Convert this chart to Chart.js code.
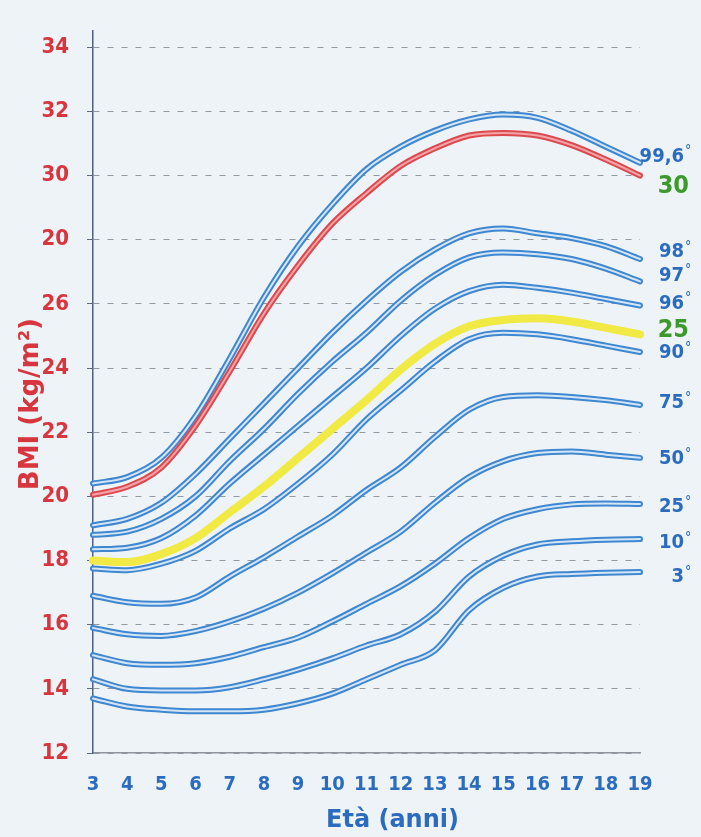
<!DOCTYPE html>
<html>
<head>
<meta charset="utf-8">
<script src="https://cdn.jsdelivr.net/npm/chart.js@4.4.0/dist/chart.umd.min.js"></script>
<style>
  html, body { margin: 0; padding: 0; background: #edf3f6; }
  canvas { display: block; }
</style>
</head>
<body>
<canvas id="bmi-chart" width="701" height="837"></canvas>
<script>
// eta' in anni (asse x)
const ages = ["3", "4", "5", "6", "7", "8", "9", "10", "11", "12", "13", "14", "15", "16", "17", "18", "19"];

// tacche asse y (il "28" nell'originale e' stampato "20")
const yTicks = [12, 14, 16, 18, 20, 22, 24, 26, 28, 30, 32, 34];
const yTickLabels = ["12", "14", "16", "18", "20", "22", "24", "26", "20", "30", "32", "34"];

// curve BMI
const p996 = [20.4, 20.6, 21.2, 22.5, 24.3, 26.2, 27.8, 29.1, 30.2, 30.9, 31.4, 31.75, 31.9, 31.8, 31.4, 30.9, 30.4];
const bmi30 = [20.05, 20.3, 20.9, 22.2, 23.9, 25.7, 27.2, 28.5, 29.45, 30.3, 30.85, 31.25, 31.33, 31.25, 30.95, 30.5, 30.0];
const p98 = [19.1, 19.3, 19.8, 20.7, 21.8, 22.9, 24.0, 25.1, 26.1, 27.0, 27.7, 28.2, 28.35, 28.2, 28.05, 27.8, 27.4];
const p97 = [18.8, 18.9, 19.3, 20.0, 21.1, 22.1, 23.2, 24.2, 25.1, 26.1, 26.9, 27.45, 27.6, 27.55, 27.4, 27.1, 26.7];
const p96 = [18.35, 18.4, 18.7, 19.4, 20.4, 21.3, 22.2, 23.1, 24.0, 25.0, 25.85, 26.4, 26.6, 26.5, 26.35, 26.15, 25.95];
const bmi25 = [18.0, 17.95, 18.2, 18.7, 19.5, 20.3, 21.2, 22.1, 23.0, 23.95, 24.75, 25.3, 25.5, 25.55, 25.45, 25.25, 25.05];
const p90 = [17.75, 17.7, 17.9, 18.3, 19.0, 19.6, 20.4, 21.3, 22.4, 23.3, 24.2, 24.9, 25.1, 25.05, 24.9, 24.7, 24.5];
const p75 = [16.9, 16.7, 16.65, 16.85, 17.5, 18.1, 18.75, 19.4, 20.2, 20.9, 21.85, 22.7, 23.1, 23.15, 23.1, 23.0, 22.85];
const p50 = [15.9, 15.7, 15.65, 15.8, 16.1, 16.5, 17.0, 17.6, 18.25, 18.9, 19.8, 20.6, 21.1, 21.35, 21.4, 21.3, 21.2];
const p25 = [15.05, 14.8, 14.75, 14.8, 15.0, 15.3, 15.6, 16.1, 16.65, 17.2, 17.9, 18.7, 19.3, 19.6, 19.75, 19.78, 19.76];
const p10 = [14.3, 14.0, 13.95, 13.95, 14.05, 14.3, 14.6, 14.95, 15.35, 15.7, 16.4, 17.5, 18.15, 18.5, 18.6, 18.65, 18.67];
const p3 = [13.7, 13.45, 13.35, 13.3, 13.3, 13.35, 13.55, 13.85, 14.3, 14.75, 15.2, 16.45, 17.15, 17.5, 17.58, 17.62, 17.64];

const narrow = "'Liberation Sans Narrow', 'DejaVu Sans Condensed', sans-serif";
const RED = "#d8363e";
const BLUE = "#2c6cbf";
const GREEN = "#3c9a2c";

// kind: tubo blu, tubo rosso o linea gialla; dy = spostamento dell'etichetta a destra
const curves = [
  { data: p996, kind: "blue", text: "99,6", deg: true, dy: -6 },
  { data: bmi30, kind: "red", text: "30", deg: false, dy: 11 },
  { data: p98, kind: "blue", text: "98", deg: true, dy: -7 },
  { data: p97, kind: "blue", text: "97", deg: true, dy: -6 },
  { data: p96, kind: "blue", text: "96", deg: true, dy: -2 },
  { data: bmi25, kind: "yellow", text: "25", deg: false, dy: -4 },
  { data: p90, kind: "blue", text: "90", deg: true, dy: 1 },
  { data: p75, kind: "blue", text: "75", deg: true, dy: -2 },
  { data: p50, kind: "blue", text: "50", deg: true, dy: 1 },
  { data: p25, kind: "blue", text: "25", deg: true, dy: 3 },
  { data: p10, kind: "blue", text: "10", deg: true, dy: 4 },
  { data: p3, kind: "blue", text: "3", deg: true, dy: 5 },
];

const datasets = [];
curves.forEach((c) => {
  const base = {
    data: c.data,
    pointRadius: 0,
    fill: false,
    cubicInterpolationMode: "monotone",
    borderCapStyle: "round",
    borderJoinStyle: "round",
  };
  if (c.kind === "yellow") {
    datasets.push({ ...base, borderColor: "#f1ea45", borderWidth: 8, order: -1 });
  } else if (c.kind === "red") {
    datasets.push({ ...base, borderColor: "#dc4a50", borderWidth: 6, order: 0 });
    datasets.push({ ...base, borderColor: "#f3a4a6", borderWidth: 2, order: -1 });
  } else {
    datasets.push({ ...base, borderColor: "#3f87d0", borderWidth: 6, order: 2 });
    datasets.push({ ...base, borderColor: "#d4e6f5", borderWidth: 2, order: 1 });
  }
});

const bgPlugin = {
  id: "bg",
  beforeDraw(chart) {
    const ctx = chart.ctx;
    ctx.save();
    ctx.fillStyle = "#edf3f6";
    ctx.fillRect(0, 0, chart.width, chart.height);
    ctx.restore();
  },
};

const labelsPlugin = {
  id: "endLabels",
  afterDraw(chart) {
    const ctx = chart.ctx;
    const y = chart.scales.y;
    const area = chart.chartArea;
    ctx.save();
    ctx.textBaseline = "middle";
    curves.forEach((c) => {
      const py = y.getPixelForValue(c.data[c.data.length - 1]) + c.dy;
      const px = area.right + 44;
      ctx.textAlign = "right";
      if (c.deg) {
        ctx.fillStyle = BLUE;
        ctx.font = "bold 20px " + narrow;
        ctx.fillText(c.text, px, py);
        ctx.textAlign = "left";
        ctx.font = "14px " + narrow;
        ctx.fillText("°", px + 1, py - 5);
      } else {
        ctx.fillStyle = GREEN;
        ctx.font = "bold 25px " + narrow;
        ctx.fillText(c.text, px + 5, py);
      }
    });

    // titoli degli assi
    ctx.fillStyle = BLUE;
    ctx.textAlign = "center";
    ctx.font = "bold 24px 'DejaVu Sans', sans-serif";
    ctx.fillText("Età (anni)", (area.left + area.right) / 2 + 26, 821);

    ctx.save();
    ctx.translate(31, (area.top + area.bottom) / 2 + 12);
    ctx.rotate(-Math.PI / 2);
    ctx.fillStyle = RED;
    ctx.font = "bold 26px 'DejaVu Sans', sans-serif";
    ctx.fillText("BMI (kg/m²)", 0, 0);
    ctx.restore();
    ctx.restore();
  },
};

new Chart(document.getElementById("bmi-chart"), {
  type: "line",
  data: { labels: ages, datasets: datasets },
  options: {
    responsive: false,
    animation: false,
    devicePixelRatio: 1,
    layout: { padding: { top: 11, right: 61, left: 0, bottom: 0 } },
    plugins: { legend: { display: false }, tooltip: { enabled: false } },
    scales: {
      x: {
        offset: false,
        grid: { display: false, drawTicks: false },
        border: { display: true, color: "#8d949b", width: 1.5 },
        ticks: {
          color: BLUE,
          font: { family: narrow, size: 20, weight: "bold" },
          padding: 20,
          maxRotation: 0,
          autoSkip: false,
        },
        afterFit(scale) { scale.height = 84; },
      },
      y: {
        min: 12,
        max: 34.5,
        afterBuildTicks(scale) { scale.ticks = yTicks.map((v) => ({ value: v })); },
        afterFit(scale) { scale.width = 93; },
        grid: {
          color: "rgba(105,115,128,0.7)",
          lineWidth: 1,
          tickLength: 6,
          tickColor: "#5a6a80",
        },
        border: { display: true, color: "#4f6180", width: 1.5, dash: [6, 8] },
        ticks: {
          color: RED,
          font: { family: narrow, size: 22, weight: "bold" },
          padding: 18,
          callback: (v) => yTickLabels[yTicks.indexOf(v)] ?? "",
        },
      },
    },
  },
  plugins: [bgPlugin, labelsPlugin],
});
</script>
</body>
</html>
